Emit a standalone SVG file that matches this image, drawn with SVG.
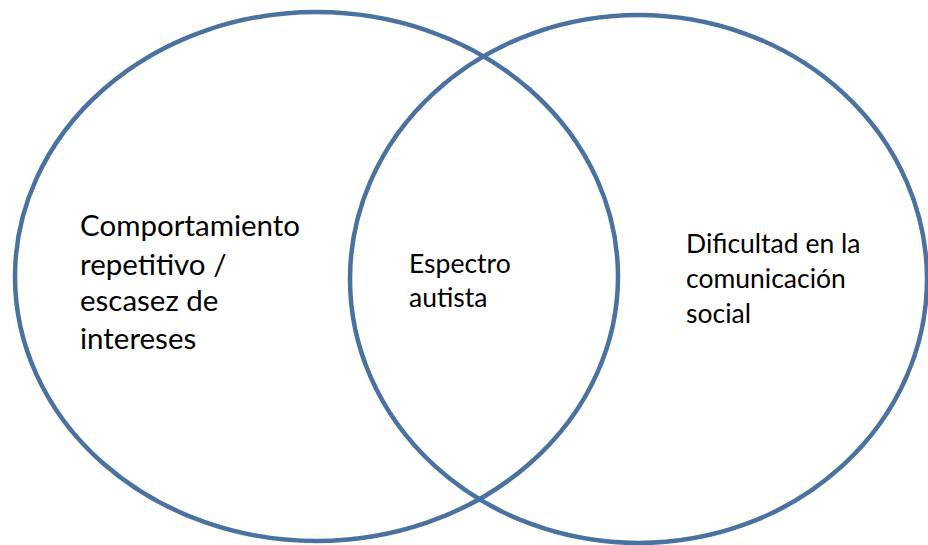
<svg xmlns="http://www.w3.org/2000/svg" width="928" height="545" viewBox="0 0 928 545">
<style>
.c{fill:none;stroke:#4a72a0;stroke-width:4.5}
.t{font-family:Lato,"Open Sans","Liberation Sans",sans-serif;fill:#000}
</style>
<rect width="928" height="545" fill="#fff"/>
<g id="left"><ellipse class="c" cx="316.5" cy="276.5" rx="301.5" ry="264.5"/>
<text class="t" font-size="29.5"><tspan x="80" y="236">Comportamiento</tspan><tspan x="80" y="275">repetitivo /</tspan><tspan x="80" y="311">escasez de</tspan><tspan x="80" y="349">intereses</tspan></text></g>
<g id="right"><ellipse class="c" cx="638.5" cy="279" rx="288.5" ry="264"/>
<text class="t" font-size="26.5"><tspan x="686" y="253">Dificultad en la</tspan><tspan x="686" y="288">comunicación</tspan><tspan x="686" y="323">social</tspan></text></g>
<g id="center"><text class="t" font-size="26.5"><tspan x="409" y="273">Espectro</tspan><tspan x="409" y="307">autista</tspan></text></g>
</svg>
